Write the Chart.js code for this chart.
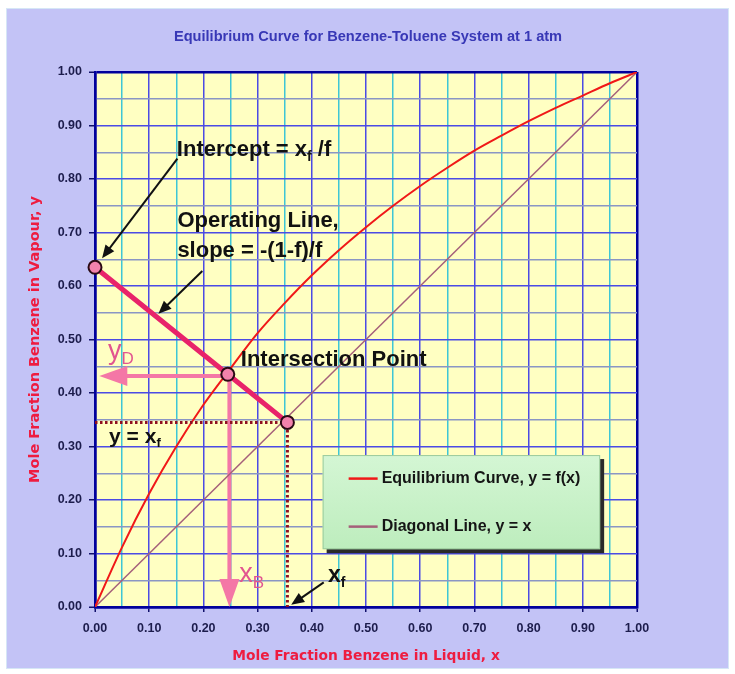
<!DOCTYPE html>
<html><head><meta charset="utf-8">
<script src="https://cdn.jsdelivr.net/npm/chart.js@4.4.0/dist/chart.umd.min.js"></script>
<style>html,body{margin:0;padding:0;background:#fff;}#wrap{width:735px;height:674px;}</style>
</head><body><div id="wrap"><canvas id="c" width="735" height="674"></canvas></div>
<script>
// ---- data ----
const eqX = [0, 0.05, 0.10, 0.15, 0.20, 0.25, 0.30, 0.35, 0.40, 0.45, 0.50, 0.55, 0.60, 0.65, 0.70, 0.75, 0.80, 0.85, 0.90, 0.95, 1.00];
const eqY = [0, 0.112, 0.212, 0.300, 0.378, 0.446, 0.512, 0.568, 0.620, 0.667, 0.710, 0.750, 0.787, 0.821, 0.853, 0.881, 0.908, 0.933, 0.956, 0.979, 1.00];
const diagX = [0, 1];
const diagY = [0, 1];
const opX = [0, 0.245, 0.355];
const opY = [0.635, 0.435, 0.345];
const feedX = [0, 0.355, 0.355];
const feedY = [0.345, 0.345, 0];
const tickLabels = ['0.00','0.10','0.20','0.30','0.40','0.50','0.60','0.70','0.80','0.90','1.00'];
const seriesNames = ['Equilibrium Curve, y = f(x)', 'Diagonal Line, y = x'];
const chartTitle = 'Equilibrium Curve for Benzene-Toluene System at 1 atm';
const xTitle = 'Mole Fraction Benzene in Liquid, x';
const yTitle = 'Mole Fraction Benzene in Vapour, y';

// annotation geometry in data coordinates
const pinkArrows = [[0.245, 0.432, 0.008, 0.432], [0.248, 0.435, 0.248, 0.0]];
const blackArrows = [[0.152, 0.838, 0.013, 0.652], [0.198, 0.628, 0.117, 0.548], [0.422, 0.046, 0.362, 0.004]];
const notes = [
  {x: 0.151, y: 0.854, parts: [['Intercept = x', 0], ['f', 1], [' /f', 0]], color: '#111', size: 22, bold: true},
  {x: 0.152, y: 0.722, parts: [['Operating Line,', 0]], color: '#111', size: 22, bold: true},
  {x: 0.152, y: 0.666, parts: [['slope = -(1-f)/f', 0]], color: '#111', size: 22, bold: true},
  {x: 0.269, y: 0.462, parts: [['Intersection Point', 0]], color: '#111', size: 22, bold: true},
  {x: 0.024, y: 0.478, parts: [['y', 0], ['D', 1]], color: '#E25590', size: 27, bold: false},
  {x: 0.026, y: 0.318, parts: [['y = x', 0], ['f', 1]], color: '#111', size: 21, bold: true},
  {x: 0.266, y: 0.060, parts: [['x', 0], ['B', 1]], color: '#E25590', size: 27, bold: false},
  {x: 0.430, y: 0.058, parts: [['x', 0], ['f', 1]], color: '#111', size: 23, bold: true}
];
const legendBox = {x0: 0.42, y0: 0.284, x1: 0.932, y1: 0.108};

function tv(c){ return (c && c.tick) ? Math.round(c.tick.value * 100) : 50; }

const bgPlugin = {
  id: 'bg',
  beforeDraw(chart) {
    const ctx = chart.ctx, a = chart.chartArea;
    ctx.save();
    ctx.fillStyle = '#ffffff';
    ctx.fillRect(0, 0, chart.width, chart.height);
    ctx.fillStyle = '#C3C3F6';
    ctx.fillRect(6, 8, 723, 661);
    ctx.strokeStyle = '#D6E6F6';
    ctx.lineWidth = 1;
    ctx.strokeRect(6.5, 8.5, 722, 660);
    ctx.fillStyle = '#FFFFC2';
    ctx.fillRect(a.left, a.top, a.right - a.left, a.bottom - a.top);
    ctx.fillStyle = '#3838B6';
    ctx.font = 'bold 14.6px "Liberation Sans", Arial, sans-serif';
    ctx.textAlign = 'center';
    ctx.textBaseline = 'middle';
    ctx.fillText(chartTitle, 368, 37);
    ctx.restore();
  }
};

function arrowHead(ctx, x1, y1, x2, y2, len, half) {
  const ang = Math.atan2(y2 - y1, x2 - x1);
  ctx.beginPath();
  ctx.moveTo(x2, y2);
  ctx.lineTo(x2 - len * Math.cos(ang) + half * Math.sin(ang), y2 - len * Math.sin(ang) - half * Math.cos(ang));
  ctx.lineTo(x2 - len * Math.cos(ang) - half * Math.sin(ang), y2 - len * Math.sin(ang) + half * Math.cos(ang));
  ctx.closePath();
  ctx.fill();
}

const annoPlugin = {
  id: 'anno',
  beforeDatasetsDraw(chart) {
    const ctx = chart.ctx, xs = chart.scales.x, ys = chart.scales.y;
    ctx.save();
    ctx.strokeStyle = '#F477A6';
    ctx.fillStyle = '#F477A6';
    ctx.lineWidth = 4;
    pinkArrows.forEach(([a, b, c, d]) => {
      const x1 = xs.getPixelForValue(a), y1 = ys.getPixelForValue(b);
      const x2 = xs.getPixelForValue(c), y2 = ys.getPixelForValue(d);
      const ang = Math.atan2(y2 - y1, x2 - x1);
      ctx.beginPath();
      ctx.moveTo(x1, y1);
      ctx.lineTo(x2 - 24 * Math.cos(ang), y2 - 24 * Math.sin(ang));
      ctx.stroke();
      arrowHead(ctx, x1, y1, x2, y2, 28, 10);
    });
    ctx.restore();
  },
  afterDatasetsDraw(chart) {
    const ctx = chart.ctx, xs = chart.scales.x, ys = chart.scales.y;
    ctx.save();
    ctx.strokeStyle = '#111';
    ctx.fillStyle = '#111';
    ctx.lineWidth = 2;
    blackArrows.forEach(([a, b, c, d]) => {
      const x1 = xs.getPixelForValue(a), y1 = ys.getPixelForValue(b);
      const x2 = xs.getPixelForValue(c), y2 = ys.getPixelForValue(d);
      const ang = Math.atan2(y2 - y1, x2 - x1);
      ctx.beginPath();
      ctx.moveTo(x1, y1);
      ctx.lineTo(x2 - 8 * Math.cos(ang), y2 - 8 * Math.sin(ang));
      ctx.stroke();
      arrowHead(ctx, x1, y1, x2, y2, 13, 5.5);
    });
    // text notes
    ctx.textBaseline = 'middle';
    ctx.textAlign = 'left';
    notes.forEach(n => {
      let x = xs.getPixelForValue(n.x);
      const y = ys.getPixelForValue(n.y);
      ctx.fillStyle = n.color;
      n.parts.forEach(([t, sub]) => {
        const sz = sub ? Math.round(n.size * 0.62) : n.size;
        ctx.font = (n.bold ? 'bold ' : '') + sz + 'px "Liberation Sans", Arial, sans-serif';
        ctx.fillText(t, x, sub ? y + n.size * 0.3 : y);
        x += ctx.measureText(t).width;
      });
    });
    // legend box
    const bx0 = xs.getPixelForValue(legendBox.x0), by0 = ys.getPixelForValue(legendBox.y0);
    const bx1 = xs.getPixelForValue(legendBox.x1), by1 = ys.getPixelForValue(legendBox.y1);
    ctx.fillStyle = '#2a2a2a';
    ctx.fillRect(bx0 + 4, by0 + 4, bx1 - bx0, by1 - by0);
    const g = ctx.createLinearGradient(0, by0, 0, by1);
    g.addColorStop(0, '#D4F6D4');
    g.addColorStop(1, '#BDEDBD');
    ctx.fillStyle = g;
    ctx.fillRect(bx0, by0, bx1 - bx0, by1 - by0);
    ctx.strokeStyle = '#9CCB9C';
    ctx.lineWidth = 1;
    ctx.strokeRect(bx0 + 0.5, by0 + 0.5, bx1 - bx0 - 1, by1 - by0 - 1);
    const ds = chart.data.datasets;
    const items = [ds[2], ds[3]];
    const h = by1 - by0;
    items.forEach((d, i) => {
      const y = by0 + h * (i === 0 ? 0.25 : 0.76);
      ctx.strokeStyle = d.borderColor;
      ctx.lineWidth = 2.5;
      ctx.beginPath();
      ctx.moveTo(bx0 + 26, y);
      ctx.lineTo(bx0 + 55, y);
      ctx.stroke();
      ctx.fillStyle = '#151515';
      ctx.font = 'bold 16px "Liberation Sans", Arial, sans-serif';
      ctx.textBaseline = 'middle';
      ctx.fillText(d.label, bx0 + 59, y);
    });
    ctx.restore();
  }
};

function gridColorX(c){ const v = tv(c); if (v === 0 || v === 100) return '#00009C'; return v % 10 === 0 ? '#4B4BE4' : '#3EC6D6'; }
function gridColorY(c){ const v = tv(c); if (v === 0 || v === 100) return '#00009C'; return v % 10 === 0 ? '#4B4BE4' : '#8A96C4'; }
function gridWidth(c){ const v = tv(c); return (v === 0 || v === 100) ? 2.5 : 1.5; }
function tickCol(c){ const v = tv(c); return v % 10 === 0 ? '#10106A' : 'rgba(0,0,0,0)'; }
function tickLab(value){ const k = Math.round(value * 20); return k % 2 === 0 ? tickLabels[k / 2] : ''; }

const tickFont = {family: '"Liberation Sans", Arial, sans-serif', size: 12.5, weight: 'bold'};

new Chart(document.getElementById('c'), {
  type: 'scatter',
  data: {
    datasets: [
      {label: 'Operating Line', data: opX.map((x, i) => ({x, y: opY[i]})), showLine: true, clip: false,
       borderColor: '#E8236A', borderWidth: 5, pointRadius: 6.5, pointBackgroundColor: '#F282AC',
       pointBorderColor: '#2A0A14', pointBorderWidth: 2},
      {label: 'Feed', data: feedX.map((x, i) => ({x, y: feedY[i]})), showLine: true,
       borderColor: '#8E1022', borderWidth: 3, borderDash: [2.5, 2.5], pointRadius: 0},
      {label: seriesNames[0], data: eqX.map((x, i) => ({x, y: eqY[i]})), showLine: true,
       borderColor: '#F01818', borderWidth: 2, pointRadius: 0, cubicInterpolationMode: 'monotone'},
      {label: seriesNames[1], data: diagX.map((x, i) => ({x, y: diagY[i]})), showLine: true,
       borderColor: '#A5607A', borderWidth: 1.5, pointRadius: 0}
    ]
  },
  options: {
    responsive: false,
    animation: false,
    events: [],
    layout: {padding: {left: 20, right: 98, top: 72, bottom: 5}},
    plugins: {
      legend: {display: false},
      tooltip: {enabled: false},
      title: {display: false}
    },
    scales: {
      x: {
        type: 'linear', min: 0, max: 1,
        afterFit(s){ s.height = 62; },
        ticks: {stepSize: 0.05, autoSkip: false, maxRotation: 0, padding: 9, color: '#1C1C4C', font: tickFont, callback: tickLab},
        grid: {color: gridColorX, lineWidth: gridWidth, tickColor: tickCol, tickLength: 5, tickWidth: 1.5},
        border: {color: '#00009C', width: 2.5},
        title: {display: true, text: xTitle, color: '#EE1C40', font: {family: '"DejaVu Sans", sans-serif', size: 13.8, weight: 'bold'}, padding: {top: 0, bottom: 4}}
      },
      y: {
        type: 'linear', min: 0, max: 1,
        afterFit(s){ s.width = 75; },
        ticks: {stepSize: 0.05, autoSkip: false, padding: 7, color: '#1C1C4C', font: tickFont, callback: tickLab},
        grid: {color: gridColorY, lineWidth: gridWidth, tickColor: tickCol, tickLength: 6, tickWidth: 1.5},
        border: {color: '#00009C', width: 2.5},
        title: {display: true, text: yTitle, color: '#EE1C40', font: {family: '"DejaVu Sans", sans-serif', size: 14.5, weight: 'bold'}, padding: {top: 7, bottom: 0}}
      }
    }
  },
  plugins: [bgPlugin, annoPlugin]
});
</script>
</body></html>
